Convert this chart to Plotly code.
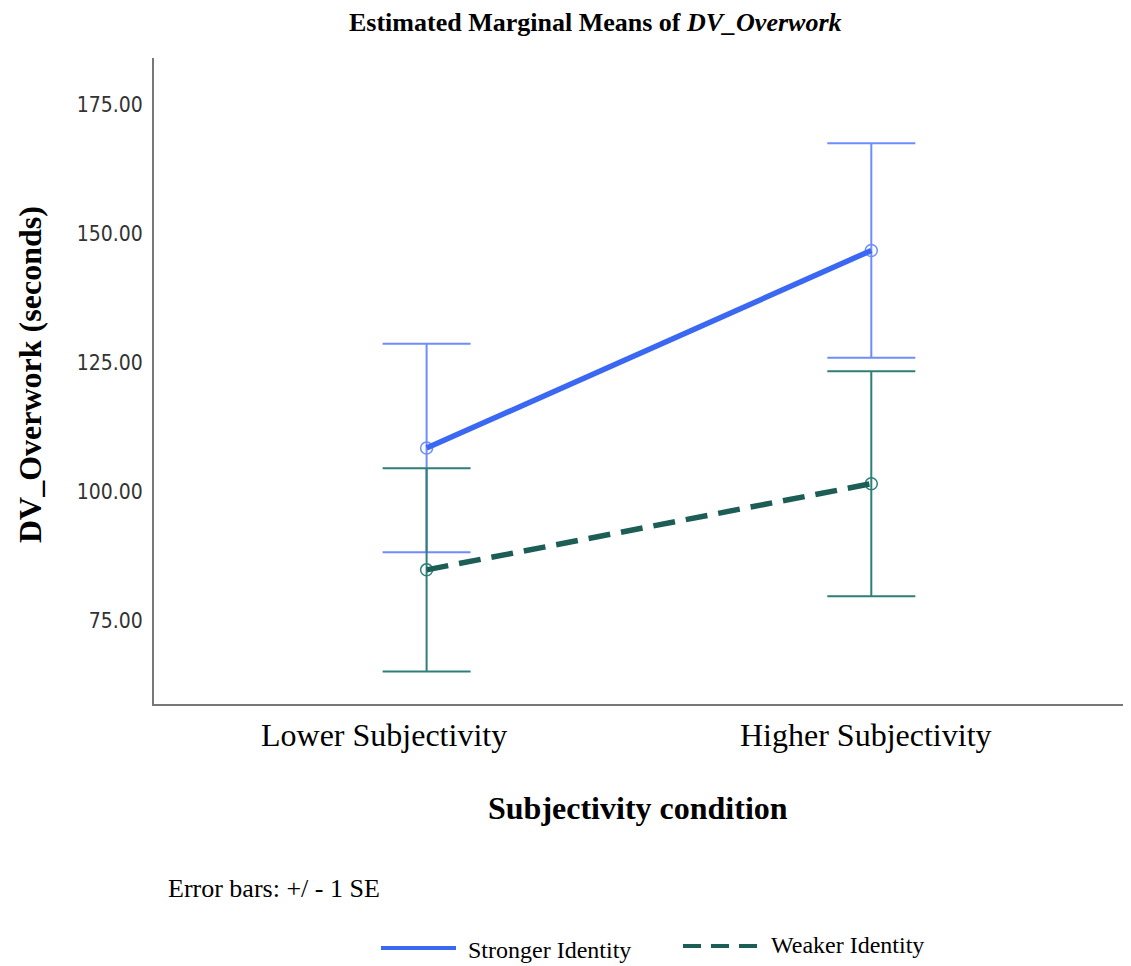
import plotly.graph_objects as go

categories = ["Lower Subjectivity", "Higher Subjectivity"]
groups = ["Stronger Identity", "Weaker Identity"]
stronger_mean = [108.5, 146.8]
stronger_se = [20.2, 20.8]
weaker_mean = [84.9, 101.6]
weaker_se = [19.7, 21.8]
y_ticks = [75, 100, 125, 150, 175]

line_colors = ["#3b68f2", "#1c5d56"]
bar_colors = ["#6d8dff", "#2e7f77"]
dashes = ["solid", "22px,11px"]

# page has an 8px body margin; shrink figure accordingly
W, H = 1123, 958
PL, PR, PT, PB = 154, 1131, 58, 704  # plot area in page pixels


def px2paper(px, py):
    return (px - PL) / (PR - PL), (PB - py) / (PB - PT)


fig = go.Figure()
series = [(stronger_mean, stronger_se), (weaker_mean, weaker_se)]
for i, (m, se) in enumerate(series):
    fig.add_trace(go.Scatter(
        x=categories, y=m, mode="markers",
        marker=dict(symbol="circle-open", size=12, color=bar_colors[i], line=dict(width=1.5)),
        error_y=dict(type="data", array=se, visible=True, color=bar_colors[i], thickness=2, width=44),
        showlegend=False, hoverinfo="skip"))
for i, (m, se) in enumerate(series):
    fig.add_trace(go.Scatter(
        x=categories, y=m, mode="lines", name=groups[i],
        line=dict(color=line_colors[i], width=5.5, dash=dashes[i]),
        showlegend=False))

serif = "Liberation Serif"
fig.update_layout(
    width=W, height=H,
    paper_bgcolor="white", plot_bgcolor="white",
    margin=dict(l=PL - 8, r=0, t=PT - 8, b=H - (PB - 8)),
    showlegend=False,
    xaxis=dict(range=[-0.613, 1.584], showgrid=False, zeroline=False,
               showline=True, linecolor="#777777", linewidth=2,
               showticklabels=False, ticks=""),
    yaxis=dict(range=[58.9, 184.1], showgrid=False, zeroline=False,
               showline=True, linecolor="#777777", linewidth=2,
               tickvals=y_ticks, ticktext=[f"{v:.2f}" for v in y_ticks],
               ticks="outside", ticklen=5, tickcolor="rgba(0,0,0,0)",
               tickfont=dict(family="DejaVu Sans Condensed, DejaVu Sans", size=21, color="#333333")),
)

texts = [
    ("<b>Estimated Marginal Means of <i>DV_Overwork</i></b>", 595, 22, "center", 0, 26),
    ("<b>DV_Overwork (seconds)</b>", 30, 375, "center", -90, 32),
    (categories[0], 384, 735, "center", 0, 32),
    (categories[1], 866, 735, "center", 0, 32),
    ("<b>Subjectivity condition</b>", 638, 808, "center", 0, 32),
    ("Error bars: +/ - 1 SE", 166, 888, "left", 0, 26),
    (groups[0], 466, 950, "left", 0, 24),
    (groups[1], 769, 945, "left", 0, 24),
]
annotations = []
for t, px, py, xa, ang, sz in texts:
    x, y = px2paper(px, py)
    annotations.append(dict(text=t, x=x, y=y, xref="paper", yref="paper",
                            xanchor=xa, yanchor="middle", textangle=ang,
                            showarrow=False,
                            font=dict(family=serif, size=sz, color="black")))
fig.update_layout(annotations=annotations)

x0, y0 = px2paper(381, 948)
x1, _ = px2paper(456, 948)
fig.add_shape(type="line", xref="paper", yref="paper", x0=x0, x1=x1, y0=y0, y1=y0,
              line=dict(color=line_colors[0], width=4))
x0, y0 = px2paper(683, 946)
x1, _ = px2paper(757, 946)
fig.add_shape(type="line", xref="paper", yref="paper", x0=x0, x1=x1, y0=y0, y1=y0,
              line=dict(color=line_colors[1], width=4, dash="18px,10px"))

fig.write_html("out.html")
